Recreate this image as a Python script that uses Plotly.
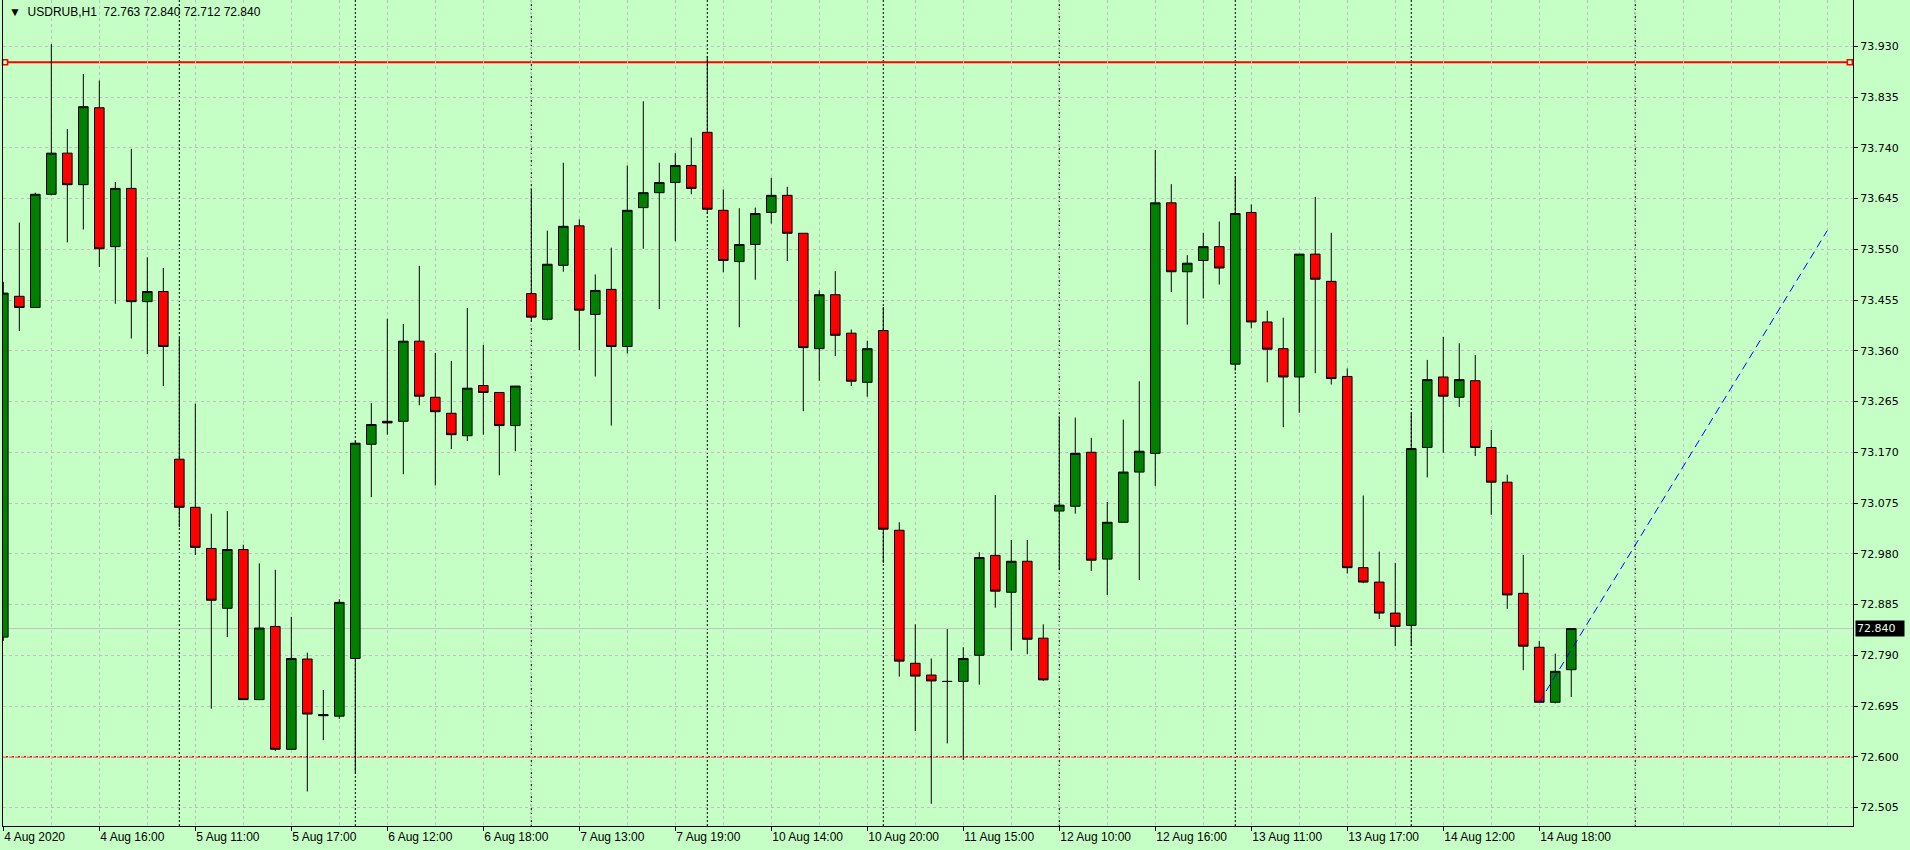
import plotly.graph_objects as go

# ---------------- data ----------------
symbol = "USDRUB,H1"

opens = [72.824, 73.462, 73.441, 73.653, 73.730, 73.671, 73.815, 73.555, 73.664, 73.452,
         73.471, 73.157, 73.067, 72.990, 72.878, 72.988, 72.707, 72.844, 72.614, 72.783,
         72.679, 72.676, 72.784, 73.185, 73.228, 73.228, 73.378, 73.273, 73.243, 73.201,
         73.295, 73.282, 73.220, 73.467, 73.419, 73.520, 73.594, 73.428, 73.475, 73.368,
         73.628, 73.656, 73.675, 73.707, 73.769, 73.623, 73.527, 73.559, 73.619, 73.651,
         73.580, 73.364, 73.465, 73.393, 73.301, 73.398, 73.024, 72.775, 72.753, 72.741,
         72.741, 72.790, 72.977, 72.908, 72.966, 72.822, 73.060, 73.069, 73.170, 72.970,
         73.039, 73.133, 73.168, 73.637, 73.508, 73.529, 73.555, 73.335, 73.619, 73.414,
         73.364, 73.311, 73.541, 73.490, 73.312, 72.954, 72.927, 72.869, 72.846, 73.179,
         73.311, 73.273, 73.304, 73.179, 73.114, 72.906, 72.805, 72.702, 72.763]
highs = [73.489, 73.600, 73.656, 73.934, 73.775, 73.878, 73.866, 73.676, 73.738, 73.535,
         73.515, 73.384, 73.261, 73.055, 73.060, 72.997, 72.962, 72.950, 72.862, 72.795,
         72.725, 72.895, 73.191, 73.262, 73.420, 73.410, 73.519, 73.356, 73.341, 73.440,
         73.371, 73.282, 73.294, 73.664, 73.585, 73.712, 73.606, 73.503, 73.553, 73.707,
         73.827, 73.712, 73.730, 73.759, 73.912, 73.662, 73.627, 73.628, 73.684, 73.667,
         73.580, 73.473, 73.509, 73.400, 73.379, 73.442, 73.039, 72.848, 72.784, 72.839,
         72.805, 72.983, 73.090, 73.006, 73.006, 72.848, 73.237, 73.235, 73.197, 73.077,
         73.231, 73.303, 73.736, 73.672, 73.539, 73.581, 73.602, 73.687, 73.634, 73.435,
         73.422, 73.541, 73.648, 73.581, 73.327, 73.089, 72.984, 72.963, 73.244, 73.343,
         73.386, 73.374, 73.352, 73.212, 73.128, 72.978, 72.817, 72.793, 72.840]
lows = [72.817, 73.397, 73.441, 73.651, 73.563, 73.587, 73.517, 73.448, 73.383, 73.354,
        73.294, 73.030, 72.978, 72.690, 72.824, 72.707, 72.706, 72.611, 72.614, 72.535,
        72.631, 72.671, 72.569, 73.086, 73.203, 73.129, 73.258, 73.108, 73.176, 73.191,
        73.203, 73.127, 73.172, 73.415, 73.417, 73.508, 73.361, 73.312, 73.220, 73.355,
        73.551, 73.438, 73.565, 73.653, 73.616, 73.507, 73.404, 73.493, 73.598, 73.528,
        73.247, 73.304, 73.350, 73.294, 73.274, 72.963, 72.750, 72.648, 72.512, 72.625,
        72.594, 72.735, 72.879, 72.799, 72.792, 72.742, 72.950, 73.055, 72.948, 72.903,
        73.039, 72.931, 73.107, 73.470, 73.409, 73.458, 73.484, 73.323, 73.402, 73.301,
        73.217, 73.244, 73.318, 73.297, 72.943, 72.925, 72.858, 72.807, 72.807, 73.123,
        73.169, 73.255, 73.163, 73.053, 72.877, 72.762, 72.702, 72.700, 72.712]
closes = [73.468, 73.441, 73.653, 73.730, 73.671, 73.817, 73.551, 73.664, 73.452, 73.471,
          73.368, 73.067, 72.992, 72.893, 72.988, 72.707, 72.841, 72.614, 72.784, 72.680,
          72.677, 72.889, 73.187, 73.222, 73.225, 73.378, 73.275, 73.246, 73.203, 73.290,
          73.282, 73.220, 73.294, 73.423, 73.522, 73.593, 73.436, 73.473, 73.368, 73.623,
          73.656, 73.675, 73.707, 73.664, 73.625, 73.529, 73.559, 73.617, 73.651, 73.580,
          73.366, 73.465, 73.389, 73.303, 73.364, 73.026, 72.779, 72.751, 72.742, 72.741,
          72.784, 72.973, 72.910, 72.966, 72.820, 72.744, 73.071, 73.168, 72.968, 73.039,
          73.133, 73.172, 73.637, 73.508, 73.524, 73.555, 73.515, 73.617, 73.414, 73.363,
          73.311, 73.541, 73.494, 73.308, 72.954, 72.927, 72.869, 72.844, 73.177, 73.306,
          73.275, 73.306, 73.179, 73.114, 72.903, 72.807, 72.702, 72.760, 72.840]

x_tick_labels = ["4 Aug 2020", "4 Aug 16:00", "5 Aug 11:00", "5 Aug 17:00", "6 Aug 12:00",
                 "6 Aug 18:00", "7 Aug 13:00", "7 Aug 19:00", "10 Aug 14:00", "10 Aug 20:00",
                 "11 Aug 15:00", "12 Aug 10:00", "12 Aug 16:00", "13 Aug 11:00", "13 Aug 17:00",
                 "14 Aug 12:00", "14 Aug 18:00"]
bars_per_label = 6
bars_per_grid = 3
day_separators = [11, 22, 33, 44, 55, 66, 77, 88, 102]

y_tick0 = 72.505
y_tick_step = 0.095
resistance_level = 73.900
support_level = 72.600
bid_price = 72.840
trend_x = [96, 114]
trend_y = [72.702, 73.585]

# ---------------- styling ----------------
BG = "#C6FFC6"
GRID = "#C0C0C0"
x_range = [-0.02, 115.61]
y_range = [72.4704, 74.0167]

n = len(opens)
xs = list(range(n))

fig = go.Figure()
fig.add_trace(go.Candlestick(
    x=xs, open=opens, high=highs, low=lows, close=closes,
    increasing=dict(line=dict(color="black", width=1), fillcolor="#008000"),
    decreasing=dict(line=dict(color="black", width=1), fillcolor="#FF0000"),
    whiskerwidth=0, showlegend=False, hoverinfo="skip",
))

# selected-object squares at the ends of the resistance line
fig.add_trace(go.Scatter(
    x=[x_range[0] + 0.13, x_range[1] - 0.2], y=[resistance_level, resistance_level],
    mode="markers", showlegend=False, hoverinfo="skip", cliponaxis=False,
    marker=dict(symbol="square", size=5, color=BG, line=dict(color="#FF0000", width=1.5)),
))

shapes = []
for s in day_separators:
    shapes.append(dict(type="line", xref="x", yref="paper", x0=s, x1=s, y0=0, y1=1,
                       line=dict(color="black", width=1, dash="2px,2px"), layer="between"))
shapes.append(dict(type="line", xref="paper", yref="y", x0=0, x1=1,
                   y0=bid_price, y1=bid_price, line=dict(color=GRID, width=1), layer="between"))
shapes.append(dict(type="line", xref="paper", yref="y", x0=0, x1=1,
                   y0=resistance_level, y1=resistance_level,
                   line=dict(color="#FF0000", width=2), layer="between"))
shapes.append(dict(type="line", xref="paper", yref="y", x0=0, x1=1,
                   y0=support_level, y1=support_level,
                   line=dict(color="#FF0000", width=1.5, dash="5px,1px"), layer="between"))
shapes.append(dict(type="line", xref="x", yref="y", x0=trend_x[0], x1=trend_x[1],
                   y0=trend_y[0], y1=trend_y[1],
                   line=dict(color="#0000FF", width=1, dash="8px,5px"), layer="above"))

last = n - 1
title_text = "\u25BC  {}\u00a0\u00a0{:.3f} {:.3f} {:.3f} {:.3f}".format(
    symbol, opens[last], highs[last], lows[last], closes[last])

annotations = [
    dict(xref="paper", yref="paper", x=0, y=1, xanchor="left", yanchor="top",
         xshift=4, yshift=-3, showarrow=False, text=title_text,
         font=dict(family="Liberation Sans, Arial, sans-serif", size=12, color="black")),
    dict(xref="paper", yref="y", x=1, y=bid_price, xanchor="left", yanchor="middle",
         xshift=2, showarrow=False, text="{:.3f}".format(bid_price),
         bgcolor="black", borderpad=1, width=46, align="left",
         font=dict(family="DejaVu Sans, Verdana, sans-serif", size=11, color="#E8FFE8")),
]

tickvals = list(range(0, n, bars_per_label))[:len(x_tick_labels)]

fig.update_layout(
    width=1910, height=850,
    margin=dict(l=3, r=57, t=0, b=24),
    paper_bgcolor=BG, plot_bgcolor=BG,
    shapes=shapes, annotations=annotations,
    boxgap=0.4, boxgroupgap=0,
    showlegend=False,
    xaxis=dict(
        range=x_range, rangeslider=dict(visible=False),
        tickmode="array", tickvals=tickvals, ticktext=x_tick_labels,
        ticks="outside", ticklen=4, tickcolor="black",
        ticklabelposition="outside right",
        tickfont=dict(family="Liberation Sans, Arial, sans-serif", size=12, color="black"),
        showgrid=True, gridcolor=GRID, griddash="3px,3px", gridwidth=1,
        minor=dict(tickmode="linear", tick0=0, dtick=bars_per_grid, showgrid=True,
                   gridcolor=GRID, griddash="3px,3px", ticks=""),
        showline=True, linecolor="black", linewidth=1, zeroline=False,
        fixedrange=True,
    ),
    yaxis=dict(
        range=y_range, side="right",
        tickmode="linear", tick0=y_tick0, dtick=y_tick_step, tickformat=".3f",
        ticks="outside", ticklen=4, tickcolor="black",
        tickfont=dict(family="DejaVu Sans, Verdana, sans-serif", size=11, color="black"),
        showgrid=True, gridcolor=GRID, griddash="3px,3px", gridwidth=1,
        showline=True, mirror=True, linecolor="black", linewidth=1, zeroline=False,
        fixedrange=True,
    ),
)

fig.write_html("out.html",
               config={"displayModeBar": False},
               post_script="document.body.style.margin='0';document.body.style.overflow='hidden';")
